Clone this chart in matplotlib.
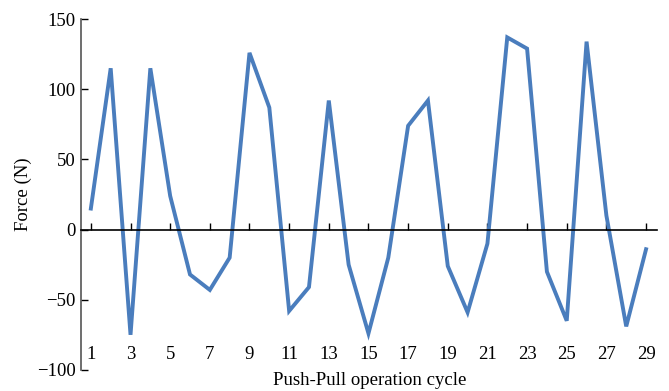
import matplotlib
matplotlib.use("Agg")
import matplotlib.pyplot as plt

cycles = list(range(1, 30))
force = [15, 115, -75, 115, 24, -32, -43, -20, 126, 87,
         -58, -41, 92, -25, -74, -20, 74, 92, -26, -59,
         -10, 137, 129, -30, -65, 134, 10, -69, -14]
xticks = list(range(1, 30, 2))
yticks = [-100, -50, 0, 50, 100, 150]

plt.rcParams['font.family'] = ['Liberation Serif', 'DejaVu Serif']

fig = plt.figure(figsize=(6.69, 3.91), dpi=100)
ax = fig.add_axes([0.121, 0.054, 0.861, 0.897])

ax.plot(cycles, force, color='#4a7dbd', linewidth=2.8, solid_joinstyle='miter')

ax.set_xlim(0.5, 29.55)
ax.set_ylim(-100, 150)
ax.set_xticks(xticks)
ax.set_yticks(yticks)
ax.set_yticklabels([str(v).replace('-', '\u2212') for v in yticks])

for side in ('top', 'right'):
    ax.spines[side].set_visible(False)
ax.spines['bottom'].set_position(('data', 0))
ax.spines['bottom'].set_linewidth(1.2)
ax.spines['left'].set_color('#555555')
ax.spines['left'].set_linewidth(1.2)

ax.tick_params(axis='x', direction='in', length=5, width=1, pad=84, labelsize=13.5)
ax.tick_params(axis='y', direction='in', length=5, width=1, pad=4, labelsize=13.5)

ax.set_ylabel('Force (N)', fontsize=13.5, labelpad=3)
fig.text(0.552, 0.005, 'Push-Pull operation cycle', ha='center', va='bottom', fontsize=13.5)

fig.savefig('out.png', dpi=100)
